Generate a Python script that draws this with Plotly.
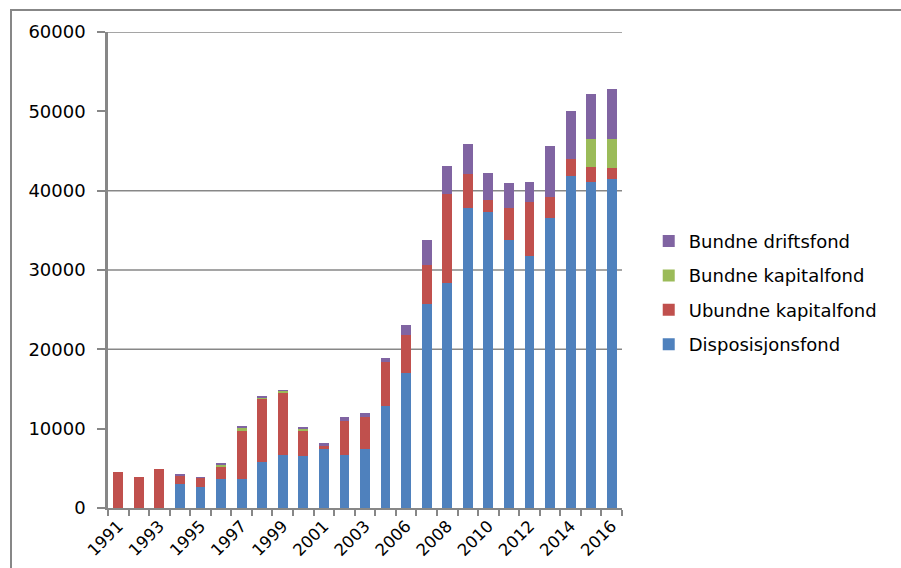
import plotly.graph_objects as go

years = ["1991", "1992", "1993", "1994", "1995", "1996", "1997", "1998", "1999", "2000",
         "2001", "2002", "2003", "2005", "2006", "2007", "2008", "2009", "2010", "2011",
         "2012", "2013", "2014", "2015", "2016"]

disposisjonsfond = [0, 0, 0, 3030, 2650, 3650, 3650, 5840, 6680, 6550,
                    7440, 6680, 7440, 12860, 17020, 25750, 28360, 37820, 37350, 33800,
                    31770, 36550, 41850, 41090, 41470]
ubundne_kapitalfond = [4540, 3900, 4900, 1100, 1170, 1520, 6180, 7900, 7850, 3280,
                       380, 4290, 4030, 5540, 4780, 4880, 11220, 4320, 1470, 4010,
                       6800, 2650, 2140, 1890, 1390]
bundne_kapitalfond = [0, 0, 0, 0, 0, 250, 250, 250, 220, 250,
                      0, 0, 0, 0, 0, 0, 0, 0, 0, 0,
                      0, 0, 0, 3530, 3650]
bundne_driftsfond = [0, 0, 0, 80, 80, 130, 260, 160, 120, 130,
                     375, 500, 510, 510, 1270, 3150, 3530, 3740, 3410, 3160,
                     2520, 6430, 6050, 5670, 6300]

series = [
    ("Disposisjonsfond", disposisjonsfond, "#4F81BD"),
    ("Ubundne kapitalfond", ubundne_kapitalfond, "#C0504D"),
    ("Bundne kapitalfond", bundne_kapitalfond, "#9BBB59"),
    ("Bundne driftsfond", bundne_driftsfond, "#8064A2"),
]

tick_labels = [y if i % 2 == 0 else "" for i, y in enumerate(years)]
y_ticks = [0, 10000, 20000, 30000, 40000, 50000, 60000]
visible_grid = [20000, 30000, 40000, 60000]

fig = go.Figure()
for i, (name, vals, col) in enumerate(series):
    fig.add_trace(go.Bar(x=years, y=vals, name=name, marker_color=col,
                         marker_line_width=0, legendgroup=f"g{i}",
                         legendrank=len(series) - i))

AXC = "#878787"
shapes = []
for g in visible_grid:
    shapes.append(dict(type="line", xref="paper", yref="y", x0=0, x1=1, y0=g, y1=g,
                       line=dict(color=AXC, width=1.5), layer="below"))
# outer chart border (clipped by window at right/bottom)
shapes.append(dict(type="rect", xref="paper", yref="paper",
                   x0=(11 - 108) / 514, x1=2, y0=-1, y1=(508 - 10) / 476,
                   line=dict(color=AXC, width=2), fillcolor="rgba(0,0,0,0)"))

fig.update_layout(
    width=901, height=568,
    margin=dict(l=108, r=279, t=32, b=60),
    paper_bgcolor="white", plot_bgcolor="white",
    barmode="stack", bargap=0.52,
    font=dict(family="DejaVu Sans", color="black"),
    shapes=shapes,
    showlegend=True,
    legend=dict(x=1.052, y=0.452, xanchor="left", yanchor="middle",
                traceorder="grouped", tracegroupgap=8,
                font=dict(size=18, family="DejaVu Sans"),
                itemwidth=30, bgcolor="rgba(0,0,0,0)"),
    xaxis=dict(
        type="category", tickmode="array", tickvals=years, ticktext=tick_labels,
        tickangle=-45, tickson="boundaries", ticks="outside", ticklen=6,
        tickcolor=AXC, tickwidth=1.5, automargin=False,
        showline=True, linecolor=AXC, linewidth=2,
        showgrid=False, tickfont=dict(size=16.5, family="DejaVu Sans"),
    ),
    yaxis=dict(
        range=[0, 60000], tickmode="array", tickvals=y_ticks,
        ticktext=[str(v) for v in y_ticks], automargin=False,
        ticks="outside", ticklen=8, tickcolor=AXC, tickwidth=1.5,
        showline=True, linecolor=AXC, linewidth=2.5,
        showgrid=False, zeroline=False, ticklabelstandoff=8,
        tickfont=dict(size=18, family="DejaVu Sans"),
    ),
)

fig.write_html("out.html")
